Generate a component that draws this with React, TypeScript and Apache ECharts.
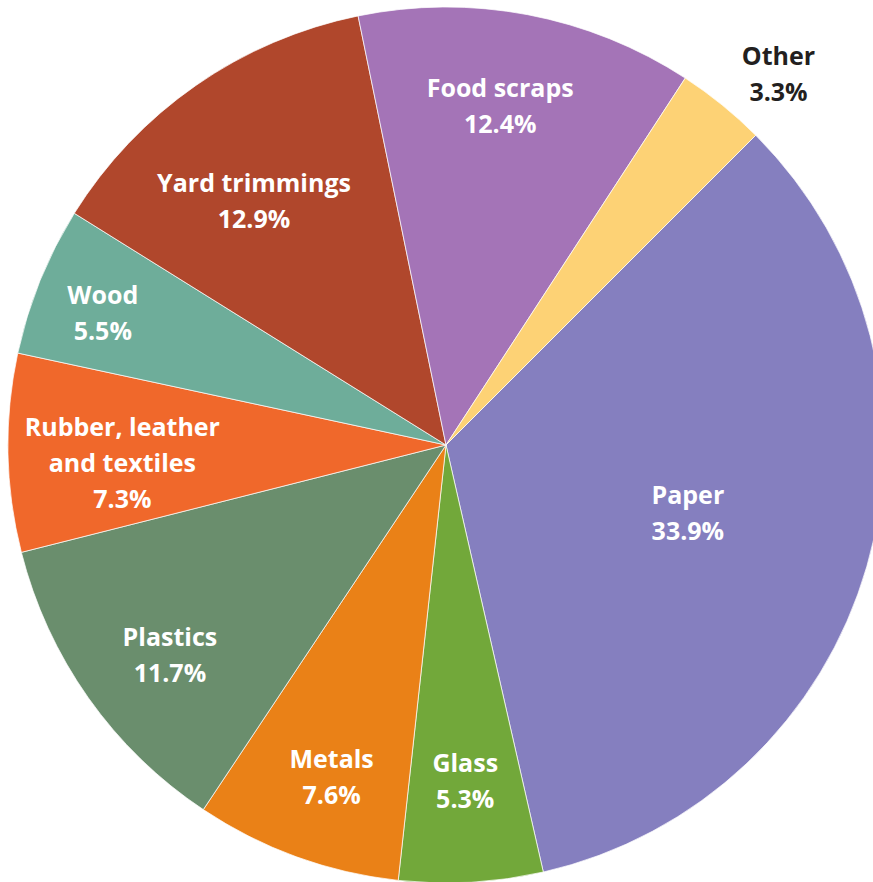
import React, { useEffect, useRef } from 'react';
import * as echarts from 'echarts';

const categories = [
  'Paper',
  'Glass',
  'Metals',
  'Plastics',
  'Rubber, leather\nand textiles',
  'Wood',
  'Yard trimmings',
  'Food scraps',
  'Other',
];
const values = [33.9, 5.3, 7.6, 11.7, 7.3, 5.5, 12.9, 12.4, 3.3];
const colors = [
  '#857fbf',
  '#72a83a',
  '#ea8117',
  '#6a8e6d',
  '#f0682b',
  '#6ead9a',
  '#b0472c',
  '#a474b7',
  '#fdd275',
];
// label placement (fraction of radius, angular shift in degrees)
const labelRadius = [0.573, 0.765, 0.8, 0.79, 0.74, 0.84, 0.71, 0.785, 1.14];
const labelShift = [-0.6, 0, -0.9, -1.8, -2, -0.9, -3.3, -1.7, 2.7];

const CX = 446;
const CY = 445;
const R = 438;
const START = 45; // echarts startAngle (ccw from 3 o'clock)

export default function App() {
  const ref = useRef<HTMLDivElement>(null);
  useEffect(() => {
    if (!ref.current) return;
    const chart = echarts.init(ref.current, null, { renderer: 'svg' });
    const total = values.reduce((a, b) => a + b, 0);
    const mids: number[] = [];
    let acc = 90 - START;
    values.forEach((v) => {
      const span = (v / total) * 360;
      mids.push(acc + span / 2);
      acc += span;
    });
    chart.setOption({
      animation: false,
      series: [
        {
          type: 'pie',
          center: [CX, CY],
          radius: [0, R],
          startAngle: START,
          clockwise: true,
          avoidLabelOverlap: false,
          itemStyle: { borderColor: 'rgba(255,255,255,0.7)', borderWidth: 1 },
          label: {
            show: true,
            position: 'inside',
            formatter: '{b}\n{c}%',
            color: '#ffffff',
            fontFamily: 'Open Sans',
            fontWeight: 700,
            fontSize: 25,
            lineHeight: 36,
            align: 'center',
          },
          labelLine: { show: false },
          emphasis: { disabled: true },
          labelLayout: (params: any) => {
            const i = params.dataIndex;
            const th = ((mids[i] + labelShift[i]) * Math.PI) / 180;
            const rr = labelRadius[i] * R;
            return {
              x: CX + rr * Math.sin(th),
              y: CY - rr * Math.cos(th),
              align: 'center',
              verticalAlign: 'middle',
            };
          },
          data: categories.map((name, i) => ({
            name,
            value: values[i],
            itemStyle: { color: colors[i] },
            label: name === 'Other' ? { color: '#231f20' } : undefined,
          })),
        },
      ],
    });
    return () => chart.dispose();
  }, []);
  return (
    <div
      ref={ref}
      style={{ position: 'absolute', left: 0, top: 0, width: 873, height: 882 }}
    />
  );
}
